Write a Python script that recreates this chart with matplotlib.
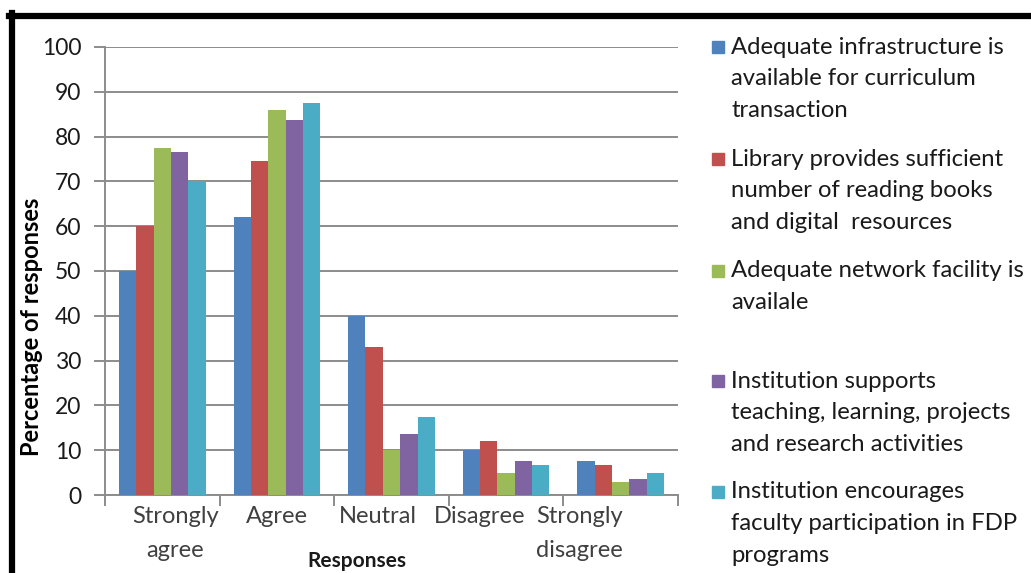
import numpy as np
import matplotlib
matplotlib.use("Agg")
import matplotlib.pyplot as plt
from matplotlib.patches import Rectangle
from matplotlib.lines import Line2D
from matplotlib.transforms import ScaledTranslation

plt.rcParams['font.family'] = ['Lato', 'DejaVu Sans']

# Data
categories = ["Strongly\nagree", "Agree", "Neutral", "Disagree", "Strongly\ndisagree"]
infrastructure = [50, 62, 40, 10, 7.5]
library = [60, 74.5, 33, 12, 6.6]
network = [77.5, 86, 10, 5, 2.8]
institution_support = [76.6, 83.6, 13.6, 7.5, 3.6]
fdp = [70, 87.5, 17.5, 6.6, 5]

series_labels = [
    "Adequate infrastructure is\navailable for curriculum\ntransaction",
    "Library provides sufficient\nnumber of reading books\nand digital  resources",
    "Adequate network facility is\navailale",
    "Institution supports\nteaching, learning, projects\nand research activities",
    "Institution encourages\nfaculty participation in FDP\nprograms",
]
colors = ["#4F81BD", "#C0504D", "#9BBB59", "#8064A2", "#4BACC6"]
series = [infrastructure, library, network, institution_support, fdp]

W, H = 1031, 573
fig = plt.figure(figsize=(W / 100, H / 100), dpi=100)
ax = fig.add_axes([105 / W, 1 - 495 / H, 573 / W, 448 / H])

x = np.arange(len(categories))
bw = 0.757 / 5
for i, vals in enumerate(series):
    ax.bar(x + (i - 2) * bw, vals, width=bw, color=colors[i], zorder=3)

ax.set_xlim(-0.5, len(categories) - 0.5)
ax.set_ylim(0, 100)
ax.set_yticks(range(0, 101, 10))
ax.yaxis.grid(True, color="#8c8c8c", linewidth=1.4, zorder=0)
for s in ["top", "right"]:
    ax.spines[s].set_visible(False)
for s in ["left", "bottom"]:
    ax.spines[s].set_color("#8c8c8c")
    ax.spines[s].set_linewidth(1.4)

ax.tick_params(axis="y", length=8, width=1.4, color="#8c8c8c",
               labelsize=16.5, labelcolor="#1a1a1a", pad=9)
ax.set_xticks(x)
ax.set_xticklabels(categories, fontsize=17, color="#404040", linespacing=1.75)
ax.set_xticks(np.arange(-0.5, len(categories), 1), minor=True)
ax.tick_params(axis="x", which="major", length=0, pad=8)
ax.tick_params(axis="x", which="minor", length=8, width=1.4, color="#8c8c8c")

# Excel nudged the category labels sideways
shifts = [13, 0, -14, -26, -41]
for lab, dx in zip(ax.get_xticklabels(), shifts):
    lab.set_transform(lab.get_transform() + ScaledTranslation(dx / 100, 0, fig.dpi_scale_trans))

ax.set_ylabel("Percentage of responses", fontsize=17, fontweight="bold", color="black")
ax.yaxis.set_label_coords(-0.108, 0.375)
ax.set_xlabel("Responses", fontsize=15, fontweight="bold", color="#1a1a1a")
ax.xaxis.set_label_coords(0.44, -0.126)

# Legend on the right, drawn by hand to keep Excel's spacing
first_line_y = [47, 159, 271, 381, 492]
step = 31.8
for lbl, col, y0 in zip(series_labels, colors, first_line_y):
    fig.patches.append(Rectangle((712 / W, 1 - (y0 + 6) / H), 12 / W, 12 / H,
                                 transform=fig.transFigure, color=col))
    for k, line in enumerate(lbl.split("\n")):
        fig.text(731 / W, 1 - (y0 + k * step) / H, line, fontsize=17.2,
                 color="#1a1a1a", va="center", ha="left")

# black frame edges of the screenshot
fig.add_artist(Line2D([9 / W, 1], [1 - 16 / H, 1 - 16 / H], color="black",
                      linewidth=4.5, transform=fig.transFigure))
fig.add_artist(Line2D([12 / W, 12 / W], [0, 1 - 13 / H], color="black",
                      linewidth=4.5, transform=fig.transFigure))

fig.savefig("out.png", dpi=100)
